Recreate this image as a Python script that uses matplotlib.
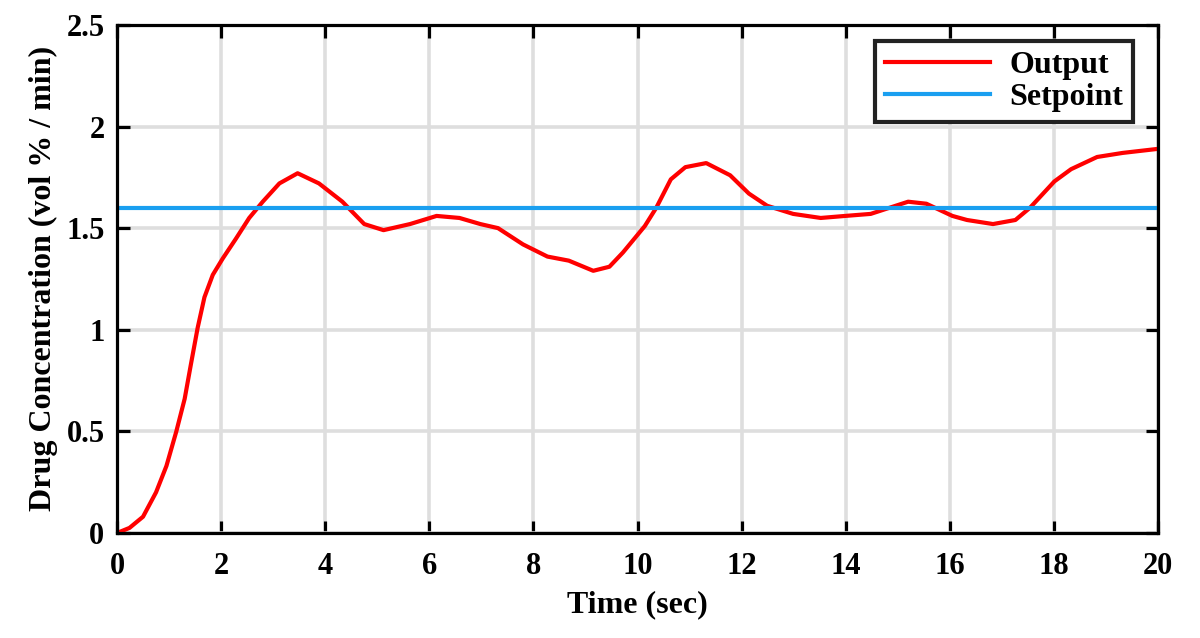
import matplotlib.pyplot as plt

# Output curve
time_sec = [0, 0.24, 0.50, 0.75, 0.95, 1.14, 1.30, 1.42, 1.55, 1.68, 1.84, 2.03, 2.29,
            2.54, 2.80, 3.12, 3.47, 3.88, 4.33, 4.75, 5.12, 5.63, 6.14, 6.58, 6.98,
            7.32, 7.80, 8.27, 8.68, 9.15, 9.46, 9.72, 10.14, 10.36, 10.64, 10.92, 11.32,
            11.78, 12.14, 12.49, 12.99, 13.52, 13.99, 14.48, 14.84, 15.2, 15.55, 16.05,
            16.33, 16.83, 17.26, 17.54, 18.01, 18.33, 18.83, 19.32, 20.0]
output = [0, 0.025, 0.08, 0.20, 0.33, 0.50, 0.66, 0.83, 1.01, 1.16, 1.27, 1.35, 1.45,
          1.55, 1.63, 1.72, 1.77, 1.72, 1.63, 1.52, 1.49, 1.52, 1.56, 1.55, 1.52,
          1.50, 1.42, 1.36, 1.34, 1.29, 1.31, 1.38, 1.51, 1.60, 1.74, 1.80, 1.82,
          1.76, 1.67, 1.61, 1.57, 1.55, 1.56, 1.57, 1.60, 1.63, 1.62, 1.56,
          1.54, 1.52, 1.54, 1.60, 1.73, 1.79, 1.85, 1.87, 1.89]
setpoint_t = [0, 20]
setpoint = [1.6, 1.6]

plt.rcParams['font.family'] = 'Liberation Serif'
plt.rcParams['font.weight'] = 'bold'

fig = plt.figure(figsize=(12, 6.38), dpi=100)
ax = fig.add_axes([0.0975, 0.1646, 0.8675, 0.7964])

ax.plot(time_sec, output, color='#ff0000', lw=3, label='Output',
        solid_joinstyle='round')
ax.plot(setpoint_t, setpoint, color='#1a9ff0', lw=3, label='Setpoint')

ax.set_xlim(0, 20)
ax.set_ylim(0, 2.5)
ax.set_xticks(range(0, 21, 2))
ax.set_yticks([0, 0.5, 1, 1.5, 2, 2.5])
ax.set_yticklabels(['0', '0.5', '1', '1.5', '2', '2.5'])
ax.grid(True, color='#dedede', lw=2.6)
ax.set_axisbelow(True)

for s in ax.spines.values():
    s.set_linewidth(2.3)
ax.tick_params(direction='in', top=True, right=True, length=9, width=2.3,
               labelsize=22)
ax.tick_params(axis='x', pad=14)
ax.tick_params(axis='y', pad=9)

ax.set_xlabel('Time (sec)', fontsize=23, fontweight='bold', labelpad=6)
ax.set_ylabel('Drug Concentration (vol % / min)', fontsize=23, fontweight='bold', labelpad=6)

leg = ax.legend(loc='upper right', bbox_to_anchor=(0.976, 0.9685), borderaxespad=0,
                fontsize=23, handlelength=3.3, fancybox=False, framealpha=1,
                labelspacing=0.1, borderpad=0.3, handletextpad=0.6)
leg.get_frame().set_edgecolor('#222222')
leg.get_frame().set_linewidth(3)

fig.savefig('out.png', dpi=100)
